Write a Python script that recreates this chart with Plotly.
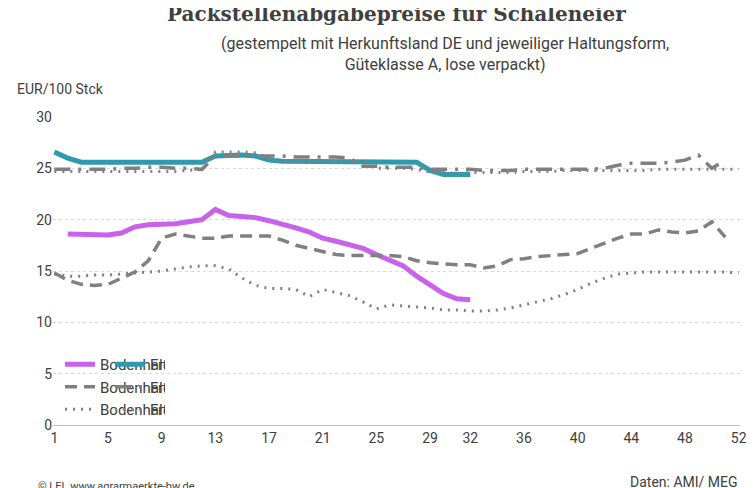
import plotly.graph_objects as go

# Kalenderwochen
kw_2026 = list(range(1, 33))
kw_2025 = list(range(1, 52))
kw_2024 = list(range(1, 53))

boden_2026 = [None, 18.6, 18.6, 18.6, 18.5, 18.7, 19.3, 19.5, 19.5, 19.6, 19.8, 20.0, 21.0, 20.4, 20.3, 20.2,
              19.9, 19.6, 19.2, 18.8, 18.2, 17.9, 17.5, 17.2, 16.6, 16.0, 15.5, 14.5, 13.6, 12.8, 12.3, 12.2]
frei_2026 = [26.6, 26.0, 25.6, 25.6, 25.6, 25.6, 25.6, 25.6, 25.6, 25.6, 25.6, 25.6, 26.2, 26.3, 26.3, 26.2,
             25.8, 25.7, 25.7, 25.7, 25.7, 25.7, 25.7, 25.6, 25.6, 25.6, 25.6, 25.6, 24.8, 24.4, 24.4, 24.4]
boden_2025 = [14.8, 14.1, 13.7, 13.6, 13.7, 14.3, 14.9, 16.0, 18.2, 18.6, 18.4, 18.2, 18.2, 18.4, 18.4, 18.4,
              18.4, 18.0, 17.5, 17.2, 16.9, 16.6, 16.5, 16.5, 16.5, 16.5, 16.4, 16.0, 15.8, 15.7, 15.6, 15.6,
              15.3, 15.5, 16.1, 16.2, 16.4, 16.5, 16.6, 16.7, 17.2, 17.7, 18.2, 18.6, 18.6, 19.0, 18.8, 18.7,
              18.9, 19.8, 18.3]
frei_2025 = [24.9, 24.9, 24.9, 24.9, 24.9, 25.0, 25.0, 25.1, 25.1, 25.0, 25.0, 24.9, 26.2, 26.2, 26.2, 26.2,
             26.2, 26.2, 26.1, 26.1, 26.1, 26.1, 26.0, 25.2, 25.2, 25.1, 25.1, 25.1, 24.9, 24.9, 24.9, 24.9,
             24.8, 24.8, 24.8, 24.9, 24.9, 24.9, 24.9, 24.9, 24.9, 25.0, 25.3, 25.5, 25.5, 25.5, 25.6, 25.8,
             26.3, 25.0, 25.8]
boden_2024 = [14.7, 14.5, 14.5, 14.6, 14.6, 14.7, 14.8, 14.9, 15.0, 15.2, 15.4, 15.5, 15.5, 15.2, 14.3, 13.6,
              13.3, 13.3, 13.2, 12.5, 13.2, 12.9, 12.6, 12.0, 11.3, 11.7, 11.6, 11.5, 11.4, 11.2, 11.2, 11.1,
              11.1, 11.2, 11.4, 11.7, 12.0, 12.3, 12.7, 13.2, 13.8, 14.3, 14.7, 14.8, 14.9, 14.9, 14.9, 14.9,
              14.9, 14.9, 14.9, 14.8]
frei_2024 = [24.7, 24.7, 24.7, 24.7, 24.7, 24.7, 24.7, 24.7, 24.7, 24.7, 24.8, 24.9, 26.6, 26.6, 26.6, 26.5,
             26.0, 25.7, 25.7, 25.7, 25.7, 25.7, 25.7, 25.6, 25.0, 25.0, 25.0, 24.9, 24.6, 24.6, 24.5, 24.6,
             24.6, 24.6, 24.6, 24.7, 24.7, 24.7, 24.8, 24.8, 24.8, 24.8, 24.8, 24.8, 24.8, 24.9, 24.9, 24.9,
             24.9, 24.9, 24.9, 24.9]

x_ticks = [1, 5, 9, 13, 17, 21, 25, 29, 32, 36, 40, 44, 48, 52]

lila = '#C862EA'
tuerkis = '#2F9AAE'
grau = '#808080'

serien = [
    ('Bodenhaltung M 2026', kw_2026, boden_2026, lila, 5, 'solid'),
    ('Freilandhaltung M 2026', kw_2026, frei_2026, tuerkis, 5, 'solid'),
    ('Bodenhaltung M 2025', kw_2025, boden_2025, grau, 3.5, '12px,7px'),
    ('Freilandhaltung M 2025', kw_2025, frei_2025, grau, 3.5, '16px,8px,3px,8px'),
    ('Bodenhaltung M 2024', kw_2024, boden_2024, grau, 3, '2px,6px'),
    ('Freilandhaltung M 2024', kw_2024, frei_2024, grau, 3, '2px,6px'),
]

fig = go.Figure()
for name, x, y, farbe, breite, stil in serien:
    fig.add_trace(go.Scatter(x=x, y=y, name=name, mode='lines',
                             line=dict(color=farbe, width=breite, dash=stil)))

fig.update_layout(
    width=756, height=488,
    paper_bgcolor='white', plot_bgcolor='white',
    font=dict(family='Roboto', size=14, color='#404040'),
    margin=dict(l=45, r=24, t=109, b=71),
    legend=dict(orientation='h', x=0.07, y=0.25, xanchor='left', yanchor='top',
                entrywidth=0.5, entrywidthmode='fraction', bgcolor='rgba(255,255,255,0)',
                font=dict(size=15, color='#404040'), tracegroupgap=0),
    showlegend=True,
)
fig.update_xaxes(range=[0.9, 52.1], tickvals=x_ticks, showgrid=False,
                 showline=True, linecolor='#bfbfbf', ticks='', tickfont=dict(size=14))
fig.update_yaxes(range=[0, 30], dtick=5, showgrid=True, gridcolor='#d9d9d9', griddash='dot',
                 zeroline=False, showline=False, ticks='', tickfont=dict(size=14))

fig.add_annotation(text='<b>Packstellenabgabepreise für Schaleneier</b>', xref='paper', yref='paper',
                   x=0.5, y=1.335, xanchor='center', yanchor='middle', showarrow=False,
                   font=dict(family='DejaVu Serif', size=20, color='#404040'))
fig.add_annotation(text='(gestempelt mit Herkunftsland DE und jeweiliger Haltungsform,<br>Güteklasse A, lose verpackt)',
                   xref='paper', yref='paper', x=0.57, y=1.205, xanchor='center', yanchor='middle',
                   showarrow=False, align='center', font=dict(size=16, color='#404040'))
fig.add_annotation(text='EUR/100 Stck', xref='paper', yref='paper', x=-0.055, y=1.09,
                   xanchor='left', yanchor='middle', showarrow=False, font=dict(size=14, color='#404040'))
fig.add_annotation(text='© LEL www.agrarmaerkte-bw.de', xref='paper', yref='paper', x=-0.025, y=-0.2,
                   xanchor='left', yanchor='middle', showarrow=False, font=dict(size=11, color='#404040'))
fig.add_annotation(text='Daten: AMI/ MEG', xref='paper', yref='paper', x=1.0, y=-0.185,
                   xanchor='right', yanchor='middle', showarrow=False, font=dict(size=14, color='#404040'))

fig.write_html('out.html')
